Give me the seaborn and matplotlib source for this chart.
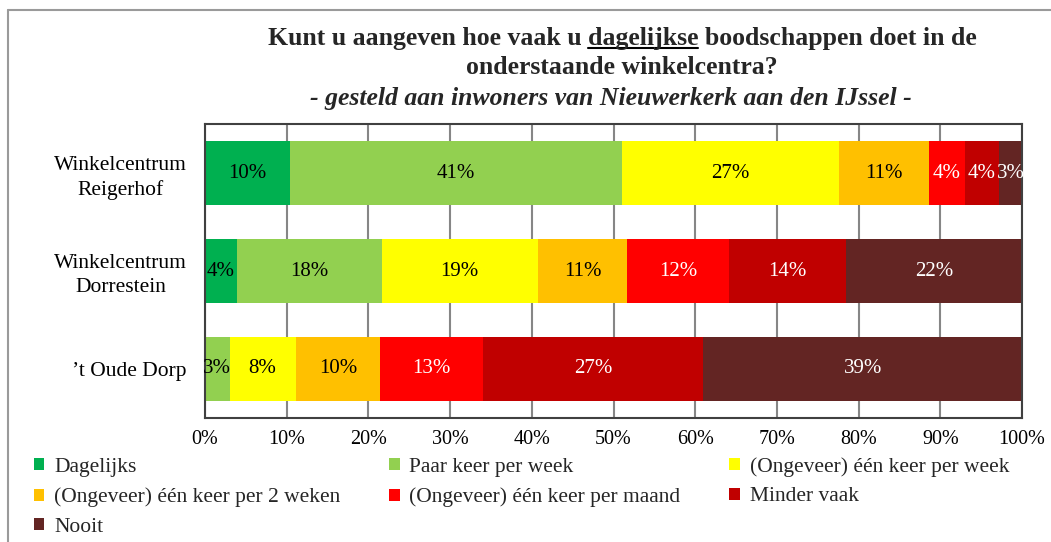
import matplotlib
matplotlib.use("Agg")
import pandas as pd
import seaborn as sns
import matplotlib.pyplot as plt
from matplotlib.patches import Patch
from matplotlib.lines import Line2D

# %%
centra = ["Winkelcentrum\nReigerhof", "Winkelcentrum\nDorrestein", "\u2019t Oude Dorp"]
antwoorden = ["Dagelijks", "Paar keer per week", "(Ongeveer) één keer per week",
              "(Ongeveer) één keer per 2 weken", "(Ongeveer) één keer per maand",
              "Minder vaak", "Nooit"]

dagelijks = [10.4, 3.9, 0.0]
paar_keer = [40.6, 17.7, 3.0]
per_week = [26.6, 19.1, 8.1]
per_2_weken = [11.0, 11.0, 10.3]
per_maand = [4.4, 12.4, 12.6]
minder_vaak = [4.2, 14.3, 27.0]
nooit = [2.8, 21.6, 39.0]

kleuren = ["#00B050", "#92D050", "#FFFF00", "#FFC000", "#FF0000", "#C00000", "#632523"]
label_kleur = ["black"] * 4 + ["white"] * 3
x_ticks = [0, 10, 20, 30, 40, 50, 60, 70, 80, 90, 100]

df = pd.DataFrame(dict(zip(antwoorden, [dagelijks, paar_keer, per_week, per_2_weken,
                                        per_maand, minder_vaak, nooit])), index=centra)
cum = df.cumsum(axis=1)

# %%
sns.set_style("white")
plt.rcParams['font.family'] = ['Liberation Serif', 'DejaVu Serif']

fig = plt.figure(figsize=(10.51, 5.42), dpi=100)
ax = fig.add_axes([0.1951, 0.2288, 0.7773, 0.5424])

# stacked bars: draw cumulative totals from last to first
for i in reversed(range(len(antwoorden))):
    sns.barplot(x=cum.iloc[:, i].values, y=centra, color=kleuren[i], orient='h',
                width=0.646, saturation=1, linewidth=0, ax=ax)

for i, naam in enumerate(antwoorden):
    for j, c in enumerate(centra):
        v = df.loc[c, naam]
        if v <= 0:
            continue
        ax.text(cum.loc[c, naam] - v / 2, j, f"{v:.0f}%", ha='center', va='center',
                color=label_kleur[i], fontsize=15)

ax.set_xlim(0, 100)
ax.set_ylim(2.5, -0.5)
ax.set_xticks(x_ticks)
ax.set_xticklabels([f"{t}%" for t in x_ticks])
ax.set_axisbelow(True)
ax.xaxis.grid(True, color='#868686', lw=1.5)
ax.yaxis.grid(False)
ax.tick_params(axis='x', length=0, labelsize=14.5, colors='black', pad=9)
ax.tick_params(axis='y', length=0, labelsize=15.5, colors='black', pad=13)
for lbl in ax.get_yticklabels():
    lbl.set_multialignment('center')
    lbl.set_linespacing(1.35)
for s in ax.spines.values():
    s.set_color('#404040')
    s.set_linewidth(1.5)
ax.set_xlabel('')
ax.set_ylabel('')

# legend, filled column-wise so it reads row-wise
volgorde = [0, 3, 6, 1, 4, 2, 5]
handles = [Patch(facecolor=kleuren[k], edgecolor='none') for k in volgorde]
fig.legend(handles, [antwoorden[k] for k in volgorde], loc='upper left',
           bbox_to_anchor=(34 / 1051, 1 - 457 / 542, 975 / 1051, 0), mode='expand',
           ncol=3, frameon=False, fontsize=15.5, handlelength=0.48, handleheight=0.48,
           handletextpad=0.45, labelspacing=0.5, borderpad=0, borderaxespad=0)

# titles
tx = 0.592
t1 = fig.text(tx, 1 - 39 / 542, "Kunt u aangeven hoe vaak u dagelijkse boodschappen doet in de",
              ha='center', va='center', fontsize=18.5, fontweight='bold')
fig.text(tx, 1 - 67 / 542, "onderstaande winkelcentra?", ha='center', va='center',
         fontsize=18.5, fontweight='bold')
fig.text(0.581, 1 - 98 / 542, "- gesteld aan inwoners van Nieuwerkerk aan den IJssel -",
         ha='center', va='center', fontsize=18.5, fontweight='bold', fontstyle='italic')

# underline the word "dagelijkse"
fig.canvas.draw()
r = fig.canvas.get_renderer()
def breedte(s):
    t = fig.text(0, 0, s, fontsize=18.5, fontweight='bold')
    w = t.get_window_extent(r).width
    t.remove()
    return w
bb = t1.get_window_extent(r)
prefix = "Kunt u aangeven hoe vaak u dagelijkse"
x1 = bb.x0 + breedte(prefix)
x0 = x1 - breedte("dagelijkse")
yl = bb.y0 + 3
fig.add_artist(Line2D([x0 / 1051, x1 / 1051], [yl / 542, yl / 542], color='black', lw=1.5))

# figure border
fig.add_artist(Line2D([7.5 / 1051, 7.5 / 1051], [0, 1 - 10 / 542], color='#9a9a9a', lw=1.5))
fig.add_artist(Line2D([7.5 / 1051, 1], [1 - 10 / 542, 1 - 10 / 542], color='#9a9a9a', lw=1.5))

plt.savefig("out.png", dpi=100)
